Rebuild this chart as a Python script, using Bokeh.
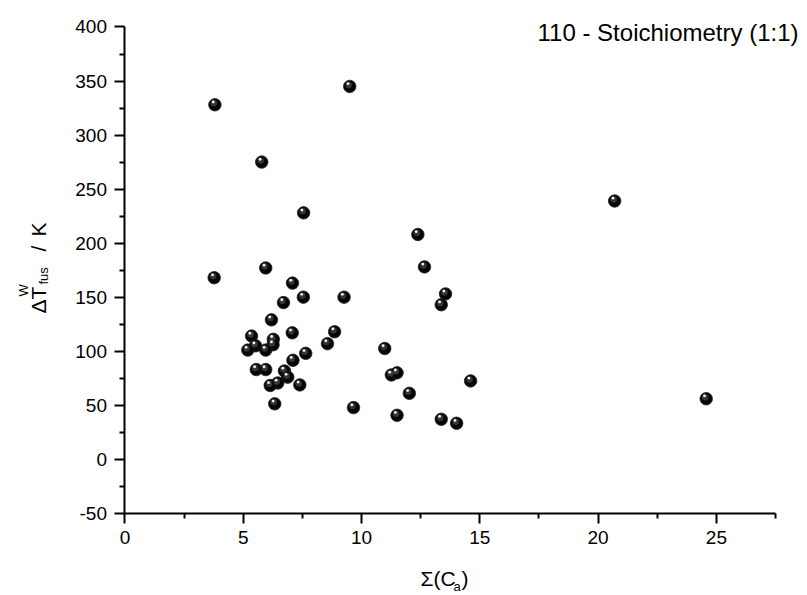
import math
from bokeh.plotting import figure
from bokeh.models import (ColumnDataSource, FixedTicker, Label, Range1d,
                          CustomJSTickFormatter)
from bokeh.transform import dodge
from bokeh.embed import file_html
from bokeh.resources import INLINE

# ---- data ----
sum_ca = [3.80, 9.50, 5.78, 7.55, 20.70, 12.38, 12.66, 3.77, 5.95, 7.08,
          7.54, 9.26, 13.55, 6.70, 13.37, 6.19, 5.35, 7.07, 8.86, 6.27,
          6.26, 8.56, 5.52, 5.19, 5.95, 10.98, 7.64, 7.10, 5.55, 5.95,
          6.74, 6.88, 11.26, 11.50, 6.46, 6.14, 7.39, 14.61, 12.02, 6.33,
          24.57, 9.66, 11.50, 13.37, 14.02]
dt_fus = [328, 345, 275, 228, 239, 208, 178, 168, 177, 163,
          150, 150, 153, 145, 143, 129, 114, 117, 118, 111,
          106, 107, 105, 101, 101, 102.5, 98, 91.6, 83, 83,
          81.7, 76, 78, 80, 70.6, 68.3, 68.8, 72.5, 61, 51.3,
          56, 47.8, 40.7, 37, 33.3]

x_major = [0, 5, 10, 15, 20, 25]
x_minor = [2.5, 7.5, 12.5, 17.5, 22.5, 27.5]
y_major = [-50, 0, 50, 100, 150, 200, 250, 300, 350, 400]
y_minor = [-25, 25, 75, 125, 175, 225, 275, 325, 375]
x_bounds = (0, 27.5)
y_bounds = (-50, 400)

title_text = "110 - Stoichiometry (1:1)"

FONT = "Liberation Sans"
W, H = 807, 595

src = ColumnDataSource(dict(x=sum_ca, y=dt_fus))

# whole canvas is the frame; axes are drawn at fixed data locations so that
# the axis titles (with sub/superscripts) can be drawn as labels
p = figure(width=W, height=H, output_backend="svg", toolbar_location=None,
           x_range=Range1d(-5.263, 28.852), y_range=Range1d(-126.06, 424.52),
           min_border=0)
p.outline_line_color = None
p.xgrid.visible = False
p.ygrid.visible = False
p.background_fill_color = "white"
p.border_fill_color = "white"

p.xaxis.fixed_location = y_bounds[0]
p.yaxis.fixed_location = x_bounds[0]
p.xaxis.bounds = x_bounds
p.yaxis.bounds = y_bounds
p.yaxis.formatter = CustomJSTickFormatter(code="return tick.toFixed(0);")

for ax, maj, mnr in ((p.xaxis[0], x_major, x_minor), (p.yaxis[0], y_major, y_minor)):
    ax.ticker = FixedTicker(ticks=maj, minor_ticks=mnr)
    ax.axis_line_width = 2
    ax.axis_line_color = "black"
    ax.major_tick_line_width = 2
    ax.minor_tick_line_width = 2
    ax.major_tick_in = 0
    ax.major_tick_out = 10
    ax.minor_tick_in = 0
    ax.minor_tick_out = 5
    ax.major_label_text_font = FONT
    ax.major_label_text_font_size = "19px"
    ax.major_label_text_color = "black"
    ax.major_label_standoff = 8

# spheres
p.scatter("x", "y", source=src, size=12.5, fill_color="#050505", line_color="#222222", line_width=0.8)
p.scatter(dodge("x", -0.045), dodge("y", 1.4), source=src, size=6.5,
          fill_color="#4a4a4a", line_color=None, fill_alpha=0.7)
p.scatter(dodge("x", -0.07), dodge("y", 2.6), source=src, size=2.8,
          fill_color="#f0f0f0", line_color=None)

def lab(text, x, y, size, angle=0.0, align="left"):
    # x, y: screen pixels from the left / bottom of the canvas
    p.add_layout(Label(x=x, y=y, x_units="screen", y_units="screen", text=text,
                       text_font=FONT, text_font_size=size, text_color="black",
                       angle=angle, text_align=align, text_baseline="alphabetic"))

# title
lab(title_text, 798, 563, "24px", align="right")

# x-axis label  Σ(C_a)
lab("\u03a3(C", 420, 17, "21px")
lab("a", 453, 9, "13px")
lab(")", 461, 17, "21px")

# y-axis label  ΔT^W_fus / K
A = math.pi / 2
lab("\u0394T", 38, 282, "21px", angle=A)
lab("W", 23, 299, "13px", angle=A)
lab("fus", 43, 311, "13px", angle=A)
lab("/", 38, 344, "21px", angle=A)
lab("K", 38, 359, "21px", angle=A)

open("out.html", "w").write(file_html(p, INLINE))
